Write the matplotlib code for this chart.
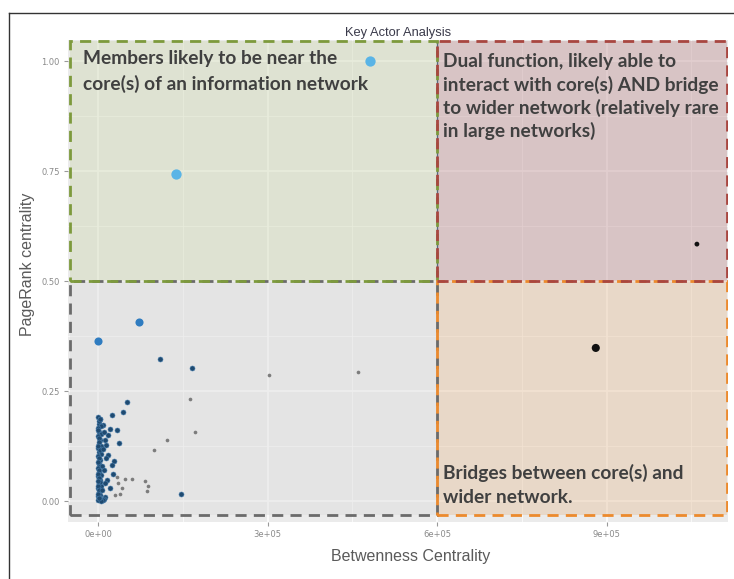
import matplotlib.pyplot as plt
from matplotlib.patches import Rectangle
from matplotlib.lines import Line2D

# node data: betweenness centrality vs pagerank centrality
hub_bx = [4.81e5, 1.38e5]
hub_pr = [1.000, 0.743]

mid_bx = [0.0, 0.73e5]
mid_pr = [0.364, 0.407]

core_bx = [1.10e5, 1.66e5, 0.51e5, 0.45e5, 0.25e5, 1.47e5,
           0.34e5, 0.37e5, 0.29e5, 0.21e5, 0.09e5, 0.18e5, 0.12e5, 0.14e5,
           0.18e5, 0.25e5, 0.16e5, 0.21e5, 0.12e5, 0.10e5, 0.27e5,
           0.0, 0.03e5, 0.01e5, 0.05e5, 0.0, 0.02e5, 0.06e5, 0.0, 0.03e5,
           0.01e5, 0.05e5, 0.0, 0.02e5, 0.06e5, 0.0, 0.03e5, 0.01e5, 0.07e5,
           0.0, 0.02e5, 0.05e5, 0.0, 0.03e5, 0.01e5, 0.06e5, 0.0, 0.02e5,
           0.04e5, 0.0, 0.03e5, 0.0, 0.08e5, 0.05e5,
           0.01e5, 0.0, 0.02e5, 0.01e5, 0.0, 0.03e5, 0.01e5, 0.0, 0.02e5,
           0.0, 0.01e5, 0.03e5, 0.0, 0.01e5, 0.02e5, 0.0, 0.01e5, 0.0,
           0.04e5, 0.11e5, 0.08e5, 0.15e5, 0.10e5, 0.07e5, 0.13e5]
core_pr = [0.322, 0.303, 0.226, 0.202, 0.196, 0.015,
           0.161, 0.132, 0.090, 0.163, 0.173, 0.150, 0.139, 0.127,
           0.105, 0.082, 0.048, 0.030, 0.009, 0.005, 0.062,
           0.191, 0.186, 0.175, 0.170, 0.166, 0.157, 0.152, 0.148, 0.139,
           0.130, 0.124, 0.120, 0.111, 0.106, 0.102, 0.093, 0.084, 0.079,
           0.075, 0.066, 0.060, 0.057, 0.048, 0.039, 0.035, 0.030, 0.020,
           0.014, 0.011, 0.004, 0.002, 0.003, 0.001,
           0.181, 0.161, 0.144, 0.134, 0.126, 0.116, 0.097, 0.088, 0.071,
           0.062, 0.052, 0.043, 0.034, 0.025, 0.008, 0.016, 0.007, 0.045,
           0.186, 0.158, 0.118, 0.098, 0.070, 0.024, 0.041]

minor_bx = [3.02e5, 4.61e5, 1.63e5, 1.72e5, 1.22e5, 0.99e5, 0.48e5, 0.60e5,
            0.83e5, 0.88e5, 0.87e5, 0.35e5, 0.43e5, 0.30e5, 0.39e5, 0.33e5]
minor_pr = [0.286, 0.293, 0.233, 0.157, 0.139, 0.116, 0.050, 0.050,
            0.046, 0.033, 0.023, 0.040, 0.030, 0.014, 0.016, 0.055]

bridge_bx = [8.81e5, 10.6e5]
bridge_pr = [0.348, 0.584]

x_ticks = [0, 3e5, 6e5, 9e5]
x_labels = ["0e+00", "3e+05", "6e+05", "9e+05"]
y_ticks = [0.0, 0.25, 0.5, 0.75, 1.0]
y_labels = ["0.00", "0.25", "0.50", "0.75", "1.00"]

quad_texts = [
    "Members likely to be near the\ncore(s) of an information network",
    "Dual function, likely able to\ninteract with core(s) AND bridge\nto wider network (relatively rare\nin large networks)",
    "Bridges between core(s) and\nwider network.",
]

W, H = 734, 579
fig = plt.figure(figsize=(W / 100, H / 100), dpi=100)
fig.patch.set_facecolor("white")

# outer frame
fig.add_artist(Line2D([9 / W, 9 / W], [0, 1 - 13 / H], color="#333333", lw=1))
fig.add_artist(Line2D([9 / W, 733 / W], [1 - 13 / H, 1 - 13 / H], color="#333333", lw=1))

ax = fig.add_axes([68 / W, 57 / H, 660 / W, 482 / H])
ax.set_facecolor("#EBEBEB")
ax.set_xlim(-0.531e5, 11.15e5)
ax.set_ylim(-0.0477, 1.048)
for s in ax.spines.values():
    s.set_visible(False)

ax.set_xticks(x_ticks)
ax.set_xticklabels(x_labels)
ax.set_yticks(y_ticks)
ax.set_yticklabels(y_labels)
ax.set_xticks([1.5e5, 4.5e5, 7.5e5, 10.5e5], minor=True)
ax.set_yticks([0.125, 0.375, 0.625, 0.875], minor=True)
ax.tick_params(which="major", length=3, color="#9a9a9a", labelsize=6, labelcolor="#8a8a8a", pad=3)
ax.tick_params(which="minor", length=0)
ax.grid(which="major", color="white", lw=1.1, zorder=0)
ax.grid(which="minor", color="white", lw=0.5, zorder=0)
ax.set_axisbelow(True)

x0, xm, x1 = -0.49e5, 6e5, 11.13e5
y0, ym, y1 = -0.032, 0.5, 1.045
dash = (0, (4, 2.6))
quads = [
    ((x0, y0), xm - x0, ym - y0, "#DFDFDF", "#6b6b6b"),
    ((x0, ym), xm - x0, y1 - ym, "#D3DBBB", "#7d9a3c"),
    ((xm, y0), x1 - xm, ym - y0, "#E7C7A7", "#EC8A2D"),
    ((xm, ym), x1 - xm, y1 - ym, "#C79FA1", "#A84640"),
]
for xy, w, h, fc, ec in quads:
    ax.add_patch(Rectangle(xy, w, h, facecolor=fc, edgecolor="none", alpha=0.5, zorder=1))
ax.plot([xm, xm], [y0, y1], color="#5a6a80", lw=1, zorder=2)
for xy, w, h, fc, ec in quads:
    ax.add_patch(Rectangle(xy, w, h, facecolor="none", edgecolor=ec, lw=2, linestyle=dash, zorder=3))

# points
ax.scatter(minor_bx, minor_pr, s=7, color="#5a5a5a", alpha=0.75, linewidths=0, zorder=4)
ax.scatter(core_bx, core_pr, s=13, color="#1f4a70", edgecolors="#4a7fae", linewidths=0.4, zorder=5)
ax.scatter(mid_bx, mid_pr, s=34, color="#2f7cc0", linewidths=0, zorder=5)
ax.scatter(hub_bx, hub_pr, s=55, color="#5AB4E6", linewidths=0, zorder=5)
ax.scatter(bridge_bx, bridge_pr, s=[34, 12], color="#111111", linewidths=0, zorder=5)

txt_kw = dict(transform=ax.transAxes, ha="left", va="top", fontsize=13.8,
              fontweight="bold", color="#404040", family="Lato", zorder=6)
ax.text(0.0227, 0.979, quad_texts[0], linespacing=1.52, **txt_kw)
ax.text(0.568, 0.972, quad_texts[1], linespacing=1.33, **txt_kw)
ax.text(0.568, 0.121, quad_texts[2], linespacing=1.52, **txt_kw)

fig.text(398 / W, 1 - 33 / H, "Key Actor Analysis", ha="center", va="center",
         fontsize=9.3, color="#3a3a4a", family="Liberation Sans")
fig.text(28 / W, 1 - 264 / H, "PageRank centrality", rotation=90, ha="center", va="center",
         fontsize=11.5, color="#5a5a5a", family="Liberation Sans")
fig.text(411 / W, 1 - 557 / H, "Betwenness Centrality", ha="center", va="center",
         fontsize=11.5, color="#5a5a5a", family="Liberation Sans")

fig.savefig("out.png", dpi=100)
